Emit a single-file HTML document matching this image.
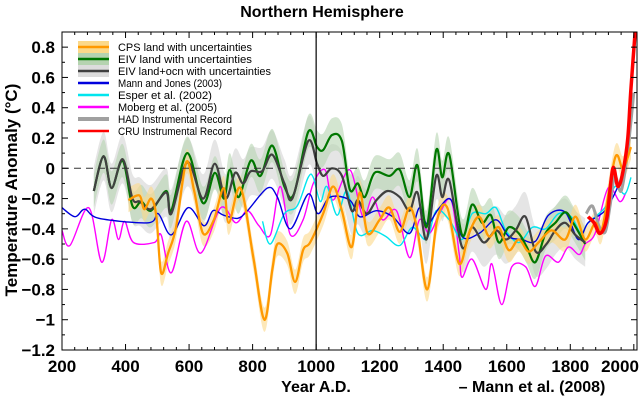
<!DOCTYPE html>
<html><head><meta charset="utf-8"><style>
html,body{margin:0;padding:0;background:#fff;}
svg{display:block;font-family:"Liberation Sans",Arial,sans-serif;}
</style></head><body>
<svg id="chart" width="640" height="400" viewBox="0 0 640 400">
<text x="322" y="17" text-anchor="middle" font-size="16" font-weight="bold">Northern Hemisphere</text>
<text transform="translate(17,190) rotate(-90)" text-anchor="middle" font-size="17" font-weight="bold">Temperature Anomaly (°C)</text>
<text x="316" y="392" text-anchor="middle" font-size="16" font-weight="bold">Year A.D.</text>
<text x="532" y="392" text-anchor="middle" font-size="16" font-weight="bold">– Mann et al. (2008)</text>
<g id="bands"></g><g id="lines"></g><g id="axes"></g><g id="legend"></g>
</svg>
<script>
// ---- data ----
const eivYears=[300,331,356,391,422,450,480,528,544,594,644,681,710,728,756,794,825,862,900,930,975,1003,1022,1050,1081,1106,1131,1153,1184,1231,1263,1294,1319,1347,1378,1397,1419,1459,1491,1522,1550,1575,1606,1638,1663,1690,1722,1753,1784,1809,1847];
const eivVals=[-0.15,0.08,-0.13,0.05,-0.25,-0.22,-0.28,-0.15,-0.28,0.1,-0.23,-0.03,-0.2,-0.01,-0.19,0.05,-0.05,0.15,-0.12,-0.17,0.24,0.14,0.12,0.22,0.18,-0.14,-0.1,-0.19,-0.03,-0.05,-0.01,-0.19,0.02,-0.39,0.12,-0.06,0.09,-0.44,-0.24,-0.36,-0.31,-0.49,-0.39,-0.43,-0.52,-0.62,-0.43,-0.36,-0.29,-0.36,-0.5];
const eloYears=[300,331,356,391,422,445,480,528,544,594,644,681,715,745,770,794,830,862,900,925,975,1003,1022,1050,1081,1112,1131,1159,1190,1225,1263,1294,1319,1347,1378,1397,1419,1459,1491,1528,1566,1597,1628,1659,1691,1725,1753,1784,1816,1847];
const eloVals=[-0.15,0.08,-0.13,0.06,-0.2,-0.22,-0.27,-0.16,-0.3,0.04,-0.2,0.03,-0.2,-0.03,-0.1,-0.02,-0.02,0.09,-0.1,-0.2,0.18,0.03,-0.05,0,-0.05,-0.28,-0.21,-0.3,-0.21,-0.15,-0.19,-0.28,-0.16,-0.47,-0.05,-0.19,-0.08,-0.52,-0.39,-0.49,-0.41,-0.47,-0.41,-0.32,-0.55,-0.5,-0.41,-0.36,-0.44,-0.49];
const cpsYears=[409,444,459,481,497,512,534,559,591,616,644,678,709,725,762,803,837,862,878,909,934,959,981,1022,1053,1081,1112,1137,1162,1200,1231,1263,1294,1319,1350,1381,1413,1450,1481,1513,1544,1575,1606,1638,1669,1700,1741,1784,1816,1847,1878,1900,1941,1966,1991];
const cpsVals=[-0.21,-0.18,-0.27,-0.2,-0.32,-0.69,-0.56,-0.39,0.04,-0.15,-0.43,-0.34,-0.13,-0.36,-0.13,-0.6,-1.0,-0.67,-0.5,-0.56,-0.75,-0.54,-0.49,-0.3,-0.12,-0.28,-0.52,-0.16,-0.43,-0.34,-0.26,-0.42,-0.26,-0.41,-0.8,-0.34,-0.26,-0.63,-0.43,-0.32,-0.45,-0.39,-0.54,-0.47,-0.55,-0.49,-0.41,-0.47,-0.32,-0.47,-0.36,-0.4,0.07,0.0,0.14];
const mjYears=[200,241,272,316,472,503,544,597,647,675,709,753,784,847,878,919,975,1006,1044,1106,1137,1190,1241,1294,1325,1350,1388,1425,1459,1513,1566,1606,1647,1691,1731,1784,1825,1856,1909,1950,1981];
const mjVals=[-0.26,-0.32,-0.27,-0.33,-0.36,-0.3,-0.44,-0.26,-0.38,-0.28,-0.31,-0.33,-0.28,-0.13,-0.19,-0.4,-0.17,-0.3,-0.19,-0.21,-0.32,-0.28,-0.32,-0.43,-0.26,-0.37,-0.26,-0.21,-0.45,-0.43,-0.34,-0.45,-0.47,-0.48,-0.31,-0.29,-0.47,-0.36,-0.28,-0.12,0.07];
const esperYears=[831,856,900,940,975,991,1013,1034,1066,1097,1131,1178,1219,1263,1303,1347,1378,1419,1459,1491,1534,1566,1597,1638,1681,1722,1763,1803,1834,1856,1909,1941,1972,1991];
const esperVals=[-0.35,-0.5,-0.3,-0.25,-0.06,-0.06,-0.22,-0.12,-0.31,-0.15,-0.43,-0.41,-0.45,-0.51,-0.39,-0.47,-0.28,-0.34,-0.47,-0.3,-0.3,-0.26,-0.41,-0.49,-0.39,-0.4,-0.3,-0.32,-0.43,-0.36,-0.26,-0.12,-0.17,-0.06];
const mobYears=[200,225,284,325,356,378,397,425,491,512,544,591,637,700,747,784,820,856,887,919,959,991,1028,1053,1106,1147,1178,1209,1253,1294,1325,1356,1388,1425,1450,1459,1491,1534,1553,1584,1616,1659,1690,1722,1763,1794,1828,1847,1878,1919,1956,1975];
const mobVals=[-0.41,-0.51,-0.26,-0.62,-0.34,-0.47,-0.35,-0.49,-0.49,-0.44,-0.69,-0.35,-0.56,-0.26,-0.36,-0.28,-0.38,-0.44,-0.12,-0.44,-0.34,-0.1,-0.01,-0.21,-0.01,-0.32,-0.19,-0.34,-0.28,-0.59,-0.34,-0.43,-0.3,-0.21,-0.56,-0.72,-0.6,-0.8,-0.63,-0.9,-0.65,-0.65,-0.78,-0.58,-0.62,-0.52,-0.57,-0.5,-0.43,-0.13,-0.22,-0.16];
const hadYears=[1850,1870,1890,1910,1925,1940,1960,1980,2000];
const hadVals=[-0.3,-0.25,-0.38,-0.42,-0.25,-0.05,-0.15,0.1,0.5];
const cruYears=[1856,1875,1894,1915,1934,1950,1966,1981,1991,2006];
const cruVals=[-0.32,-0.36,-0.43,-0.33,0.0,-0.12,-0.02,0.2,0.53,0.95];
const yTicks=[0.8,0.6,0.4,0.2,0,-0.2,-0.4,-0.6,-0.8,-1,-1.2];
const yTickLabels=["0.8","0.6","0.4","0.2","0","−0.2","−0.4","−0.6","−0.8","−1","−1.2"];
const xTicks=[200,400,600,800,1000,1200,1400,1600,1800,2000];
const legendLabels=["CPS land with uncertainties","EIV land with uncertainties","EIV land+ocn with uncertainties","Mann and Jones (2003)","Esper et al. (2002)","Moberg et al. (2005)","HAD Instrumental Record","CRU Instrumental Record"];

// ---- axes ----
const L=62,R=637,T=32,B=350,X0=200,X1=2010,Y0=-1.2,Y1=0.9;
const xs=v=>L+(v-X0)*(R-L)/(X1-X0);
const ys=v=>B-(v-Y0)*(B-T)/(Y1-Y0);
const NS="http://www.w3.org/2000/svg";
function mk(tag,attrs,parent){const e=document.createElementNS(NS,tag);for(const k in attrs)e.setAttribute(k,attrs[k]);parent.appendChild(e);return e;}
function pts(yr,vals,off){return yr.map((y,i)=>[xs(y),ys(vals[i]+(off||0))]);}
function spline(p){let d="M"+p[0][0].toFixed(1)+","+p[0][1].toFixed(1);
 for(let i=0;i<p.length-1;i++){const p0=p[i-1]||p[i],p1=p[i],p2=p[i+1],p3=p[i+2]||p2;
  const c1=[p1[0]+(p2[0]-p0[0])/6,p1[1]+(p2[1]-p0[1])/6],c2=[p2[0]-(p3[0]-p1[0])/6,p2[1]-(p3[1]-p1[1])/6];
  d+="C"+c1[0].toFixed(1)+","+c1[1].toFixed(1)+" "+c2[0].toFixed(1)+","+c2[1].toFixed(1)+" "+p2[0].toFixed(1)+","+p2[1].toFixed(1);}
 return d;}
function band(yr,vals,w){const up=spline(pts(yr,vals,w));const lo=pts(yr,vals,-w).reverse();const d2=spline(lo);return up+"L"+d2.slice(1)+"Z";}
const bands=document.getElementById('bands'),lines=document.getElementById('lines'),axes=document.getElementById('axes'),leg=document.getElementById('legend');
const defs=mk('defs',{},document.getElementById('chart'));
const cp=mk('clipPath',{id:'pc'},defs);
mk('rect',{x:L,y:T,width:R-L,height:B-T},cp);
bands.setAttribute('clip-path','url(#pc)');lines.setAttribute('clip-path','url(#pc)');

let b;
b=mk('path',{d:band(eloYears,eloVals,0.16),fill:'#dcdcdc','fill-opacity':0.75},bands);


b=mk('path',{d:band(eivYears,eivVals,0.11),fill:'#b5d3b0','fill-opacity':0.6},bands);


b=mk('path',{d:band(cpsYears,cpsVals,0.08),fill:'#fbd98a','fill-opacity':0.6},bands);



const series=[
 [mobYears,mobVals,'#ff00ff',1.4,'moberg-line'],
 [esperYears,esperVals,'#00e5ee',1.4,'esper-line'],
 [mjYears,mjVals,'#0000dd',1.4,'mann-jones-line'],
 [hadYears,hadVals,'#a0a0a0',3,'had-line'],
 [eivYears,eivVals,'#007700',2.2,'eiv-land-line'],
 [eloYears,eloVals,'#404040',2.2,'eiv-land-ocean-line'],
 [cpsYears,cpsVals,'#ff9900',2.3,'cps-land-line'],
 [cruYears,cruVals,'#ff0000',3.5,'cru-line']];
series.forEach(s=>{const p=mk('path',{d:spline(pts(s[0],s[1])),fill:'none',stroke:s[2],'stroke-width':s[3]},lines);
 
 });

let e;
e=mk('line',{x1:L,x2:R,y1:ys(0),y2:ys(0),stroke:'#333','stroke-width':1,'stroke-dasharray':'7,5'},axes);


e=mk('line',{x1:xs(1000),x2:xs(1000),y1:T,y2:B,stroke:'#000','stroke-width':1.2},axes);


e=mk('rect',{x:L,y:T,width:R-L,height:B-T,fill:'none',stroke:'#000','stroke-width':1},axes);


for(let v=-1.2;v<=0.9001;v+=0.1){const yy=ys(v);const major=Math.abs(Math.round(v*10))%2===0;const len=major?6:3;
 mk('line',{x1:L,x2:L+len,y1:yy,y2:yy,stroke:'#000'},axes);mk('line',{x1:R,x2:R-len,y1:yy,y2:yy,stroke:'#000'},axes);}
for(let v=200;v<=2000;v+=40){const xx=xs(v);const len=(v%200===0)?6:3;
 mk('line',{x1:xx,x2:xx,y1:B,y2:B-len,stroke:'#000'},axes);mk('line',{x1:xx,x2:xx,y1:T,y2:T+len,stroke:'#000'},axes);}
yTicks.forEach((v,i)=>{const t=mk('text',{x:55,y:ys(v)+6,'text-anchor':'end','font-size':17,'font-weight':'bold'},axes);t.textContent=yTickLabels[i];
 
 });
xTicks.forEach(v=>{const xx=Math.min(xs(v),620);const t=mk('text',{x:xx,y:372,'text-anchor':'middle','font-size':17,'font-weight':'bold'},axes);t.textContent=String(v);
 
 });

const legCols=[['#ff9900','#fbd98a'],['#007700','#b5d3b0'],['#404040','#dcdcdc'],['#0000dd'],['#00e5ee'],['#ff00ff'],['#a0a0a0'],['#ff0000']];
legendLabels.forEach((lab,i)=>{const y=47+i*12;const g=mk('g',{},leg);
 
 
 const c=legCols[i];if(c[1])mk('rect',{x:78,y:y-6,width:31,height:12,fill:c[1]},g);
 mk('line',{x1:78,x2:109,y1:y,y2:y,stroke:c[0],'stroke-width':(i==6?4:2.5)},g);
 const t=mk('text',{x:118,y:y+4,'font-size':11,textLength:Math.round(lab.length*4.95),lengthAdjust:'spacingAndGlyphs'},g);t.textContent=lab;});
</script>
</body></html>
